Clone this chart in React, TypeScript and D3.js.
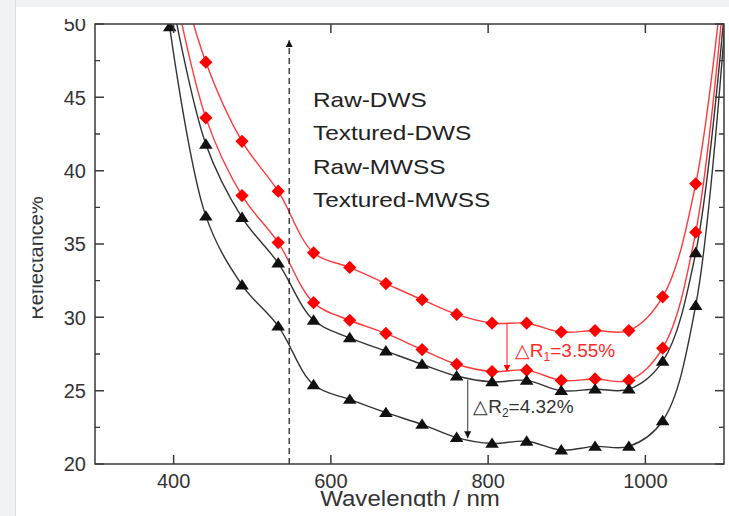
import React from "react";
import * as d3 from "d3";

// wavelength (nm) of every marker; first and last lie outside the frame
const wavelengths = [395, 441, 487, 533, 578, 624, 670, 716, 760, 805, 849, 893, 936, 979, 1022, 1064, 1108];
const rawDWS = [56, 47.4, 42.0, 38.6, 34.4, 33.4, 32.3, 31.2, 30.2, 29.6, 29.6, 29.0, 29.1, 29.1, 31.4, 39.1, 58];
const texturedDWS = [54, 43.6, 38.3, 35.1, 31.0, 29.8, 28.9, 27.8, 26.8, 26.3, 26.4, 25.7, 25.8, 25.7, 27.9, 35.8, 57];
const rawMWSS = [52.5, 41.8, 36.8, 33.7, 29.8, 28.6, 27.7, 26.8, 26.0, 25.6, 25.7, 25.0, 25.1, 25.1, 27.0, 34.4, 55.5];
const texturedMWSS = [49.8, 36.9, 32.2, 29.4, 25.4, 24.4, 23.5, 22.7, 21.8, 21.4, 21.55, 20.95, 21.2, 21.2, 22.95, 30.8, 55];

const legendLabels = ["Raw-DWS", "Textured-DWS", "Raw-MWSS", "Textured-MWSS"];
const xTicks = [400, 600, 800, 1000];
const yTicks = [20, 25, 30, 35, 40, 45, 50];
const yMinorTicks = [22.5, 27.5, 32.5, 37.5, 42.5, 47.5];

const RED = "#ff0000";
const RED_LINE = "#ff3a3a";
const BLACK = "#111";
const BLACK_LINE = "#333";
const FONT = "'Liberation Sans', Arial, sans-serif";

const diamond = "M0,-6.6L6.6,0L0,6.6L-6.6,0Z";
const triangle = "M0,-6L6.8,4.4L-6.8,4.4Z";

export default function App() {
  const x = d3.scaleLinear().domain([300, 1100]).range([95, 724]);
  const y = d3.scaleLinear().domain([20, 50]).range([464, 24]);

  const series = [
    { name: legendLabels[0], values: rawDWS, line: RED_LINE, fill: RED, mark: diamond },
    { name: legendLabels[1], values: texturedDWS, line: RED_LINE, fill: RED, mark: diamond },
    { name: legendLabels[2], values: rawMWSS, line: BLACK_LINE, fill: BLACK, mark: triangle },
    { name: legendLabels[3], values: texturedMWSS, line: BLACK_LINE, fill: BLACK, mark: triangle },
  ];

  const line = d3
    .line<number>()
    .x((_, i) => x(wavelengths[i]))
    .y((d) => y(d))
    .curve(d3.curveCatmullRom.alpha(0.5));

  const [x0, x1] = x.range();
  const [yb, yt] = y.range();

  // annotation anchors in data units
  const dashX = 547;
  const dR1 = { w: 824, from: 29.6, to: 26.3 };
  const dR2 = { w: 774, from: 25.75, to: 21.75 };

  return (
    <svg
      width={729}
      height={516}
      style={{ position: "absolute", left: 0, top: 0, display: "block" }}
      fontFamily={FONT}
    >
      <defs>
        <clipPath id="plot">
          <rect x={x0} y={yt} width={x1 - x0} height={yb - yt} />
        </clipPath>
        <clipPath id="page">
          <rect x={32.5} y={19} width={697} height={488} />
        </clipPath>
        <marker id="arrBlack" viewBox="0 0 10 10" refX="10" refY="5" markerWidth="7" markerHeight="9" orient="auto" markerUnits="userSpaceOnUse">
          <path d="M0,0L10,5L0,10Z" fill={BLACK} />
        </marker>
        <marker id="arrRed" viewBox="0 0 10 10" refX="10" refY="5" markerWidth="7" markerHeight="9" orient="auto" markerUnits="userSpaceOnUse">
          <path d="M0,0L10,5L0,10Z" fill={RED} />
        </marker>
      </defs>

      <rect width={729} height={516} fill="#f1f2f4" />
      <rect x={16} y={7} width={713} height={509} fill="#fff" />
      <line x1={15.5} x2={15.5} y1={0} y2={516} stroke="#dcdde0" />

      <g clipPath="url(#page)">
        {/* curves and markers */}
        <g clipPath="url(#plot)">
          {series.map((s) => (
            <path key={s.name} d={line(s.values) || ""} fill="none" stroke={s.line} strokeWidth={1.4} />
          ))}
          {series.map((s) =>
            s.values.map((v, i) => (
              <path
                key={s.name + i}
                d={s.mark}
                transform={`translate(${x(wavelengths[i])},${y(v)})`}
                fill={s.fill}
              />
            ))
          )}
        </g>

        {/* dashed arrow */}
        <line
          x1={x(dashX)}
          x2={x(dashX)}
          y1={y(20)}
          y2={y(48.9)}
          stroke={BLACK}
          strokeWidth={1.2}
          strokeDasharray="6,4"
          markerEnd="url(#arrBlack)"
        />

        {/* delta R annotations */}
        <line x1={x(dR1.w)} x2={x(dR1.w)} y1={y(dR1.from)} y2={y(dR1.to)} stroke={RED_LINE} strokeWidth={1.2} markerEnd="url(#arrRed)" />
        <line x1={x(dR2.w)} x2={x(dR2.w)} y1={y(dR2.from)} y2={y(dR2.to)} stroke="#555" strokeWidth={1.2} markerEnd="url(#arrBlack)" />
        <text x={x(834)} y={y(27.3)} fontSize={19} fill="#ff2a2a">
          △R<tspan fontSize={12} dy={4}>1</tspan>
          <tspan dy={-4}>=3.55%</tspan>
        </text>
        <text x={x(781)} y={y(23.48)} fontSize={19} fill="#333">
          △R<tspan fontSize={12} dy={4}>2</tspan>
          <tspan dy={-4}>=4.32%</tspan>
        </text>

        {/* legend */}
        {legendLabels.map((t, i) => (
          <text key={t} transform={`translate(313,${107 + i * 33.3}) scale(1.16,1)`} fontSize={21} fill="#222">
            {t}
          </text>
        ))}

        {/* frame */}
        <rect x={x0} y={yt} width={x1 - x0} height={yb - yt} fill="none" stroke="#3a3a3a" strokeWidth={1.5} />

        {/* x ticks */}
        {xTicks.map((t) => (
          <g key={t} stroke="#3a3a3a" strokeWidth={1.5}>
            <line x1={x(t)} x2={x(t)} y1={yb} y2={yb - 9} />
            <line x1={x(t)} x2={x(t)} y1={yt} y2={yt + 9} />
          </g>
        ))}
        {xTicks.map((t) => (
          <text key={"l" + t} x={x(t)} y={488} textAnchor="middle" fontSize={20} fill="#333">
            {t}
          </text>
        ))}

        {/* y ticks */}
        {yTicks.map((t) => (
          <g key={t} stroke="#3a3a3a" strokeWidth={1.5}>
            <line x1={x0} x2={x0 + 9} y1={y(t)} y2={y(t)} />
            <line x1={x1} x2={x1 - 9} y1={y(t)} y2={y(t)} />
          </g>
        ))}
        {yMinorTicks.map((t) => (
          <g key={t} stroke="#3a3a3a" strokeWidth={1.3}>
            <line x1={x0} x2={x0 + 5} y1={y(t)} y2={y(t)} />
            <line x1={x1} x2={x1 - 5} y1={y(t)} y2={y(t)} />
          </g>
        ))}
        {yTicks.map((t) => (
          <text key={"l" + t} x={86} y={y(t)} dy="0.36em" textAnchor="end" fontSize={20} fill="#333">
            {t}
          </text>
        ))}

        {/* axis titles */}
        <text transform="translate(410,506) scale(1.12,1)" textAnchor="middle" fontSize={21.5} fill="#333">
          Wavelength / nm
        </text>
        <text transform="translate(43,258) rotate(-90)" textAnchor="middle" fontSize={20} fill="#333">
          Reflectance%
        </text>
      </g>
    </svg>
  );
}
